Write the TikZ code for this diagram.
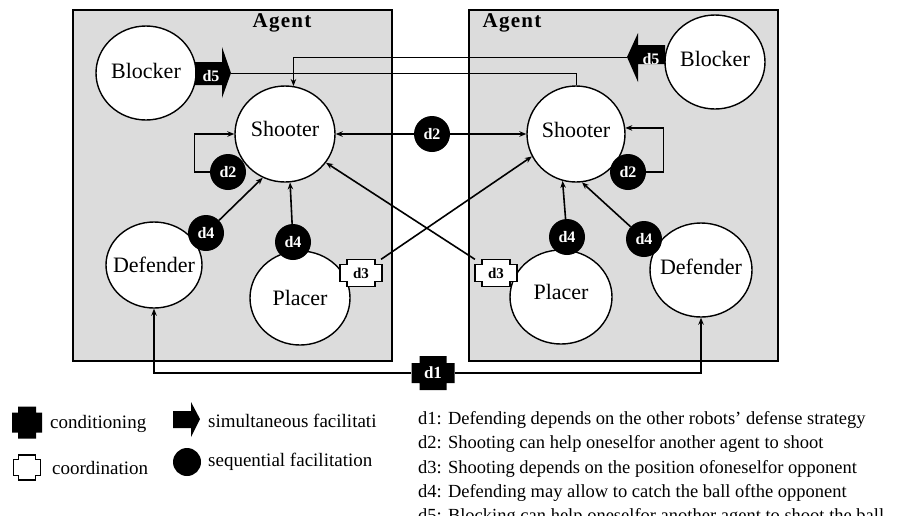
\documentclass[tikz,border=0pt]{standalone}
\usepackage{fontspec}
\setmainfont{Liberation Serif}
\usetikzlibrary{calc,arrows.meta,shapes.geometric}
\pgfdeclarelayer{boxes}
\pgfdeclarelayer{lines}
\pgfdeclarelayer{front}
\pgfsetlayers{boxes,lines,main,front}
\definecolor{boxgray}{RGB}{220,220,220}
% #1 style, #2 centre, #3 half width, #4 half bar height, #5 half top width, #6 half height
\newcommand\crossat[6]{%
  \path[#1] ($(#2)+(-#5,-#6)$) -- ($(#2)+(#5,-#6)$) -- ($(#2)+(#5,-#4)$) -- ($(#2)+(#3,-#4)$)
   -- ($(#2)+(#3,#4)$) -- ($(#2)+(#5,#4)$) -- ($(#2)+(#5,#6)$) -- ($(#2)+(-#5,#6)$)
   -- ($(#2)+(-#5,#4)$) -- ($(#2)+(-#3,#4)$) -- ($(#2)+(-#3,-#4)$) -- ($(#2)+(-#5,-#4)$) -- cycle;}
\tikzset{
  rolefont/.style={font=\fontsize{22}{26}\selectfont},
  role/.style={ellipse, draw, line width=1.4pt, fill=white, inner sep=0pt},
  badge/.style={circle, fill=black, text=white, minimum size=36pt, inner sep=0pt, font=\bfseries\fontsize{16}{18}\selectfont},
  crosslab/.style={rectangle, inner sep=0pt, font=\bfseries\fontsize{15}{17}\selectfont},
  tipend/.style={-{Stealth[length=7pt,width=5.5pt]}},
  conn/.style={line width=1.6pt},
  thinconn/.style={line width=0.9pt},
  agent/.style={draw, line width=1.6pt, fill=boxgray, inner sep=0pt},
  agentlab/.style={font=\bfseries\fontsize{21}{24}\selectfont\addfontfeature{LetterSpace=6}},
  legendtxt/.style={font=\fontsize{19}{22}\selectfont, anchor=base west, inner sep=0pt},
  notetxt/.style={font=\fontsize{18.5}{20}\selectfont, anchor=base west, inner sep=0pt},
  whitecross/.style={draw, fill=white, line width=1.3pt, line join=miter},
  blackcross/.style={fill=black},
}
\begin{document}
\begin{tikzpicture}[x=1pt,y=-1pt]
\useasboundingbox (0,0) rectangle (901,515);

% agent boxes
\begin{pgfonlayer}{boxes}
\node[agent, anchor=north west, minimum width=319pt, minimum height=351pt] (agL) at (72,9) {};
\node[agent, anchor=north west, minimum width=309pt, minimum height=351pt] (agR) at (468,9) {};
\end{pgfonlayer}
\node[agentlab] (tL) at (282,23) {Agent};
\node[agentlab] (tR) at (512,23) {Agent};

% roles
\node[role, minimum width=100pt, minimum height=94pt, label={[rolefont, yshift=2pt]center:Blocker}] (bL) at (146,73) {};
\node[role, minimum width=100pt, minimum height=96pt, label={[rolefont, yshift=5pt]center:Shooter}] (sL) at (285,134) {};
\node[role, minimum width=96pt, minimum height=86pt, label={[rolefont]center:Defender}] (dfL) at (154,265) {};
\node[role, minimum width=100pt, minimum height=94pt, label={[rolefont]center:Placer}] (pL) at (300,298) {};
\node[role, minimum width=100pt, minimum height=94pt, label={[rolefont, yshift=3pt]center:Blocker}] (bR) at (715,62) {};
\node[role, minimum width=98pt, minimum height=96pt, label={[rolefont, yshift=4pt]center:Shooter}] (sR) at (576,134) {};
\node[role, minimum width=102pt, minimum height=94pt, label={[rolefont, yshift=3pt]center:Defender}] (dfR) at (701,270) {};
\node[role, minimum width=102pt, minimum height=94pt, label={[rolefont, yshift=5pt]center:Placer}] (pR) at (561,297) {};

% front marks
\begin{pgfonlayer}{front}
\node[badge] (d2l) at (228,172) {d2};
\node[badge] (d2c) at (432,134) {d2};
\node[badge] (d2r) at (628,172) {d2};
\node[badge] (d4a) at (206,233) {d4};
\node[badge] (d4b) at (293,242) {d4};
\node[badge] (d4c) at (567,237) {d4};
\node[badge] (d4d) at (644,239) {d4};

\coordinate (d3a) at (361,273);
\coordinate (d3b) at (496,273);
\coordinate (d1) at (433,373);
\crossat{whitecross}{d3a}{21}{8.5}{14}{13.5}
\crossat{whitecross}{d3b}{21}{8.5}{14}{13.5}
\crossat{blackcross}{d1}{21.5}{10}{13.5}{17}
\node[crosslab, minimum width=42pt, minimum height=27pt] (d3aT) at (d3a) {d3};
\node[crosslab, minimum width=42pt, minimum height=27pt] (d3bT) at (d3b) {d3};
\node[crosslab, text=white, font=\bfseries\fontsize{17}{19}\selectfont, minimum width=43pt, minimum height=20pt] (d1T) at (d1) {d1};

% d5 arrows
\fill (195,62) -- (222,62) -- (222,47) -- (231,73) -- (222,98) -- (222,85) -- (195,85) -- cycle;
\coordinate (d5Ltip) at (231,73);
\node[crosslab, text=white, font=\bfseries\fontsize{16}{18}\selectfont] (d5L) at (211,76) {d5};
\fill (665,45) -- (638,45) -- (638,33) -- (627,57) -- (638,82) -- (638,64) -- (665,64) -- cycle;
\coordinate (d5Rtip) at (627,57);
\node[crosslab, text=white, font=\bfseries\fontsize{16}{18}\selectfont] (d5R) at (651,59) {d5};
\end{pgfonlayer}

% connectors
\begin{pgfonlayer}{lines}
\draw[conn, {Stealth[length=7pt,width=5.5pt]}-{Stealth[length=7pt,width=5.5pt]}] (sL.east) -- (sR.west);
\draw[line width=1.3pt, tipend] (d2l.west) -- ++(-15,0) |- (sL.west);
\draw[line width=1.3pt, tipend] (d2r.east) -- ++(17,0) |- (sR.7);
\draw[conn, tipend] (d4a) -- (sL.243);
\draw[conn, tipend] (d4b) -- (sL.276);
\draw[conn, tipend] (d4c) -- (sR.254);
\draw[conn, tipend] (d4d) -- (sR.277);
\draw[conn, tipend] (d3aT) -- (sR.207);
\draw[conn, tipend] (d3bT) -- (sL.325);
\draw[conn, tipend] (d1T.west) -| (dfL.south);
\draw[conn, tipend] (d1T.east) -| (dfR.south);
\draw[thinconn] (d5Ltip) -| (sR.north);
\draw[thinconn, tipend] (d5Rtip) -| (sL.80);
\end{pgfonlayer}

% legend
\crossat{blackcross}{27,422.5}{15}{10}{9}{16}
\crossat{whitecross}{27,467.5}{13.5}{8}{8.5}{12.5}
\fill (173,411) -- (191,411) -- (191,402) -- (200,419) -- (191,437) -- (191,428) -- (173,428) -- cycle;
\node[circle, fill=black, minimum size=28pt, inner sep=0pt] (lgC) at (187,462) {};
\node[legendtxt] (lg1) at (50,428) {conditioning};
\node[legendtxt] (lg2) at (52,474) {coordination};
\node[legendtxt] (lg3) at (208,427) {simultaneous facilitati};
\node[legendtxt] (lg4) at (208,466) {sequential facilitation};

% notes
\node[notetxt] (n1) at (418,424) {d1: Defending depends on the other robots’ defense strategy};
\node[notetxt] (n2) at (418,448.5) {d2: Shooting can help oneselfor another agent to shoot};
\node[notetxt] (n3) at (418,473) {d3: Shooting depends on the position ofoneselfor opponent};
\node[notetxt] (n4) at (418,497) {d4: Defending may allow to catch the ball ofthe opponent};
\node[notetxt] (n5) at (418,521.5) {d5: Blocking can help oneselfor another agent to shoot the ball};
\end{tikzpicture}
\end{document}
